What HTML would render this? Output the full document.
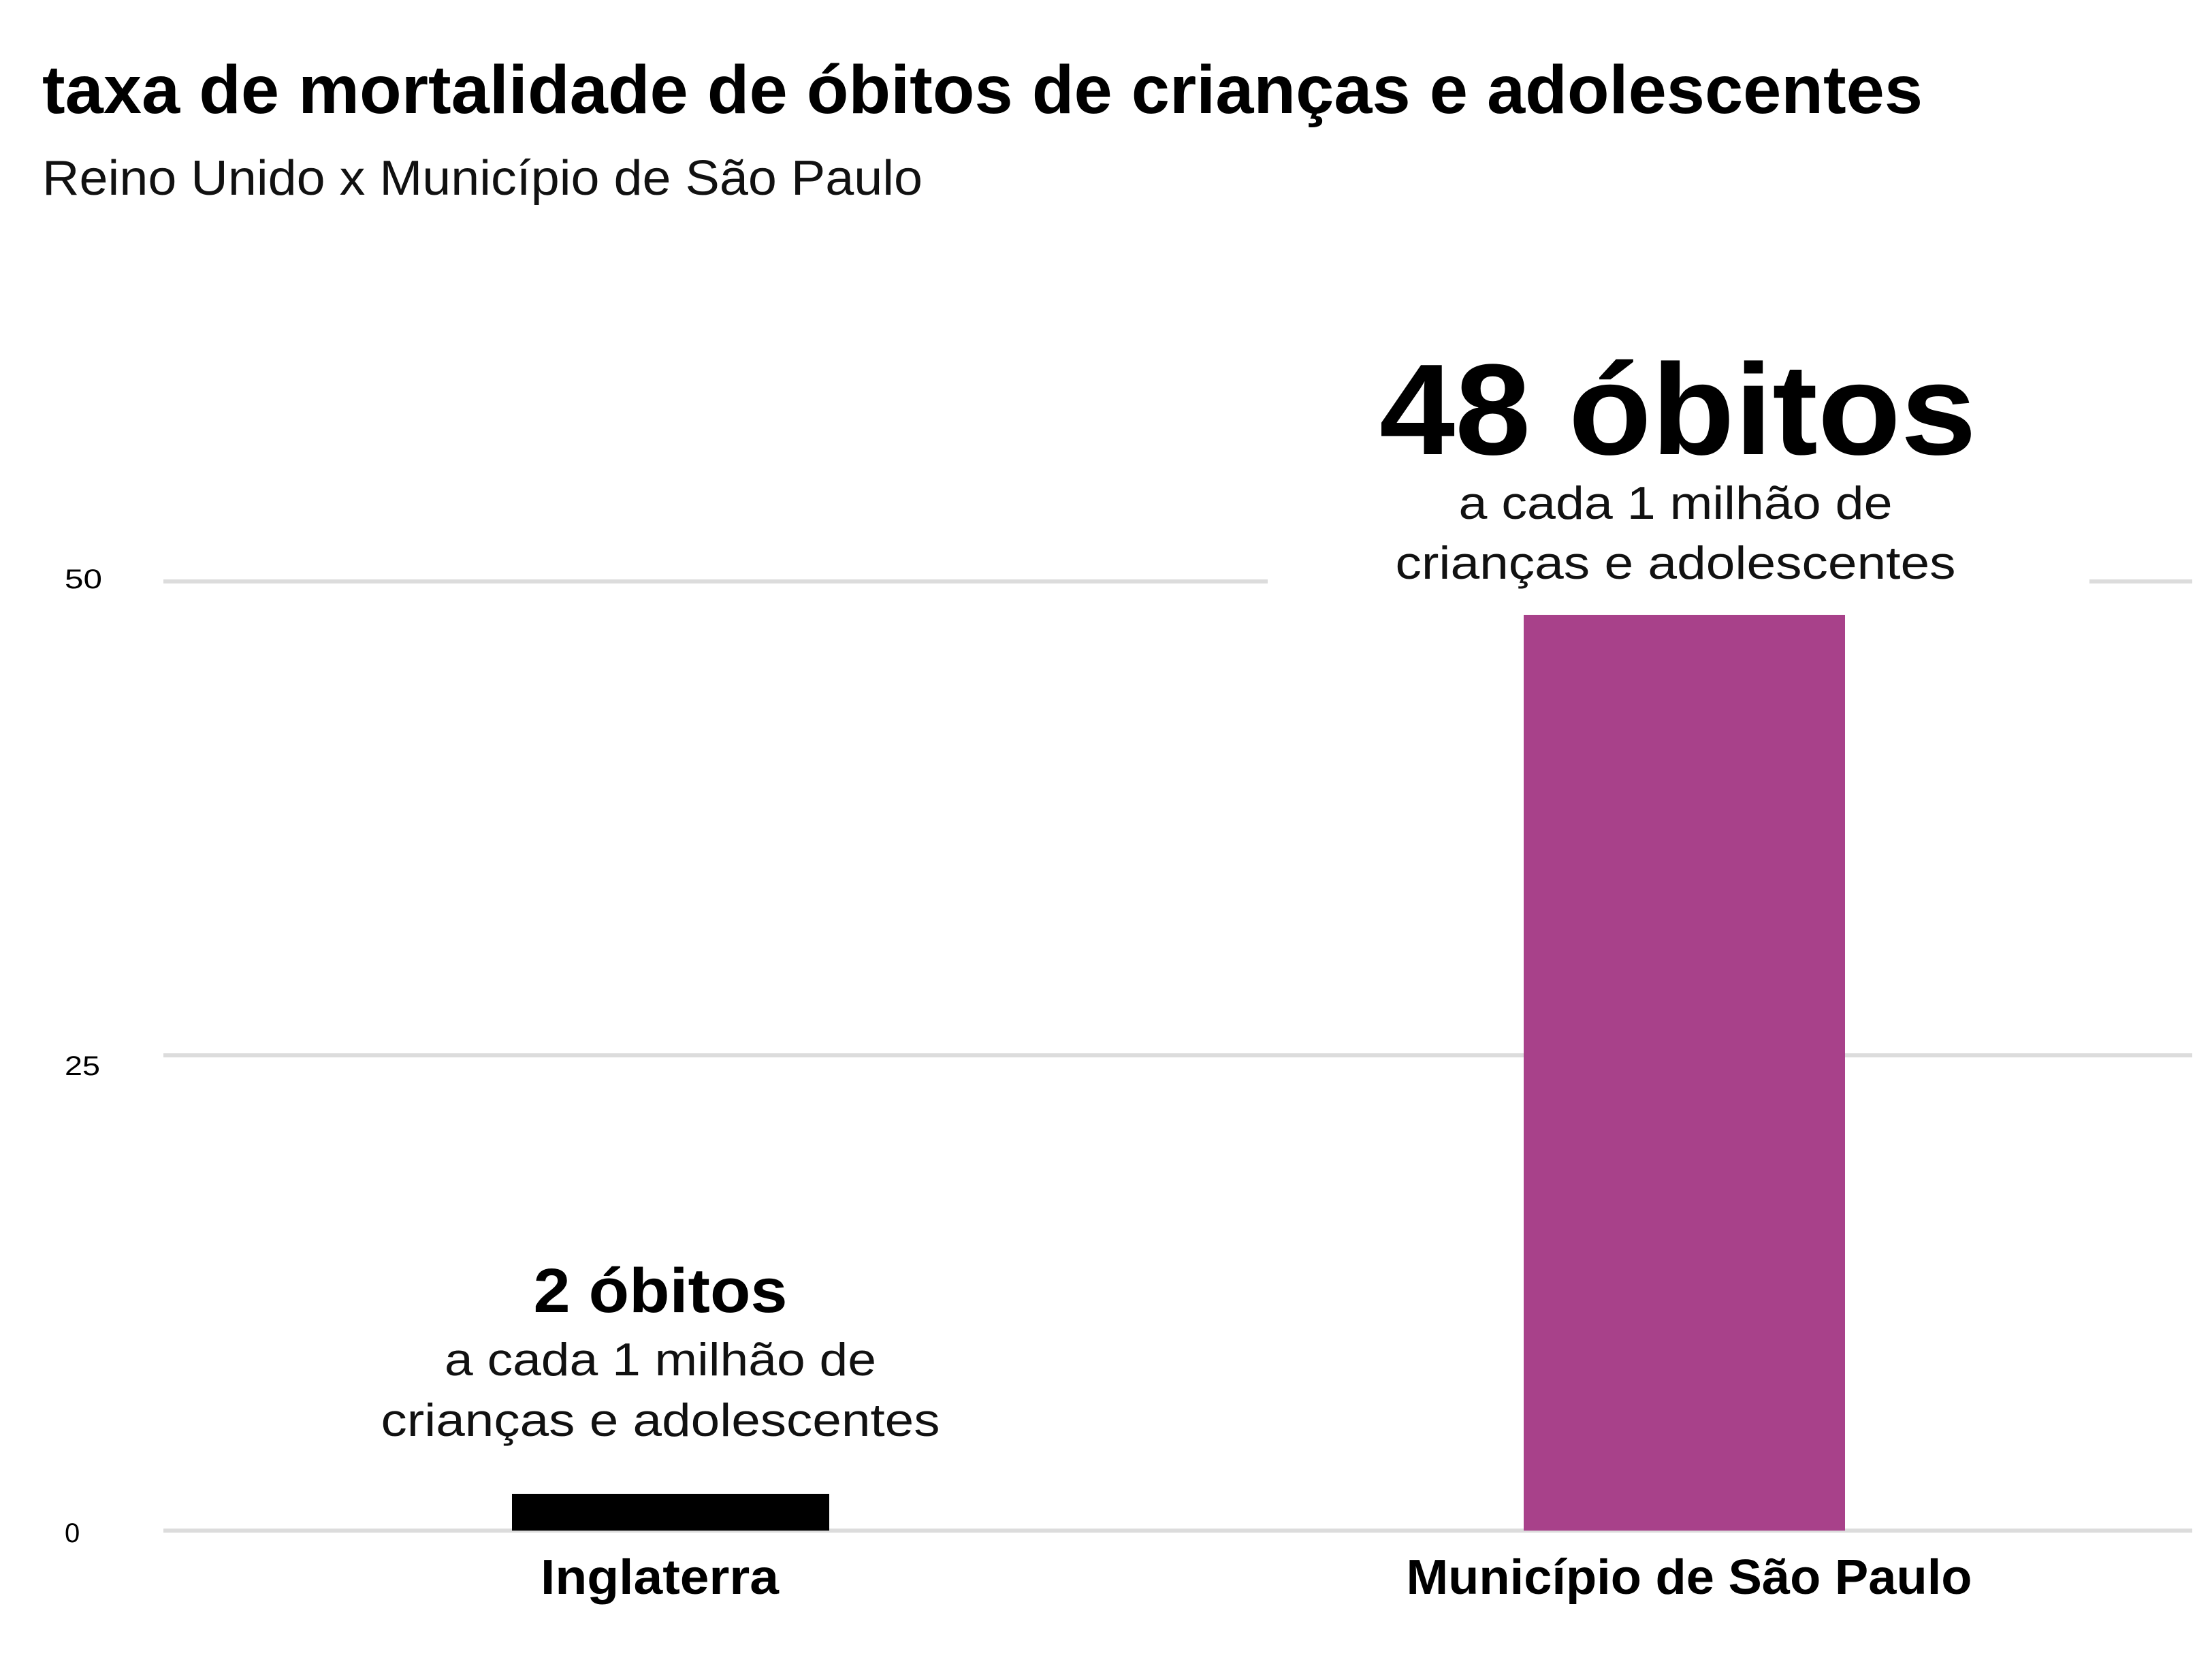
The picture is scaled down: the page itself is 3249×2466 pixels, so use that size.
<!DOCTYPE html>
<html><head><meta charset="utf-8"><style>html,body{margin:0;padding:0;background:#fff}svg{display:block}</style></head>
<body>
<svg width="3249" height="2466" viewBox="0 0 3249 2466" xmlns="http://www.w3.org/2000/svg" font-family="Liberation Sans, sans-serif">
<rect width="3249" height="2466" fill="#fff"/>
<g fill="#dcdcdc">
<rect x="240" y="851" width="1622" height="6"/>
<rect x="3069" y="851" width="151" height="6"/>
<rect x="240" y="1547" width="2980" height="6"/>
<rect x="240" y="2245" width="2980" height="6"/>
</g>
<rect x="752" y="2194" width="466" height="54" fill="#000"/>
<rect x="2238" y="903" width="472" height="1345" fill="#a8418a"/>
<g font-size="40" fill="#000">
<text x="95" y="864" textLength="55" lengthAdjust="spacingAndGlyphs">50</text>
<text x="95" y="1579" textLength="52" lengthAdjust="spacingAndGlyphs">25</text>
<text x="95" y="2265">0</text>
</g>
<text x="62" y="166" font-size="100" font-weight="bold" textLength="2762" lengthAdjust="spacingAndGlyphs">taxa de mortalidade de óbitos de crianças e adolescentes</text>
<text x="62" y="286" font-size="72" textLength="1293" lengthAdjust="spacingAndGlyphs" fill="#111">Reino Unido x Município de São Paulo</text>
<text x="2026" y="667" font-size="190" font-weight="bold" textLength="877" lengthAdjust="spacingAndGlyphs">48 óbitos</text>
<text x="2461" y="762" font-size="68" text-anchor="middle" textLength="637" lengthAdjust="spacingAndGlyphs" fill="#111">a cada 1 milhão de</text>
<text x="2461" y="850" font-size="68" text-anchor="middle" textLength="823" lengthAdjust="spacingAndGlyphs" fill="#111">crianças e adolescentes</text>
<text x="970" y="1927" font-size="92" font-weight="bold" text-anchor="middle" textLength="373" lengthAdjust="spacingAndGlyphs">2 óbitos</text>
<text x="970" y="2020" font-size="68" text-anchor="middle" textLength="634" lengthAdjust="spacingAndGlyphs" fill="#111">a cada 1 milhão de</text>
<text x="970" y="2109" font-size="68" text-anchor="middle" textLength="821" lengthAdjust="spacingAndGlyphs" fill="#111">crianças e adolescentes</text>
<text x="969" y="2341" font-size="72" font-weight="bold" text-anchor="middle" textLength="350" lengthAdjust="spacingAndGlyphs">Inglaterra</text>
<text x="2481" y="2341" font-size="72" font-weight="bold" text-anchor="middle" textLength="831" lengthAdjust="spacingAndGlyphs">Município de São Paulo</text>
</svg>
</body></html>
